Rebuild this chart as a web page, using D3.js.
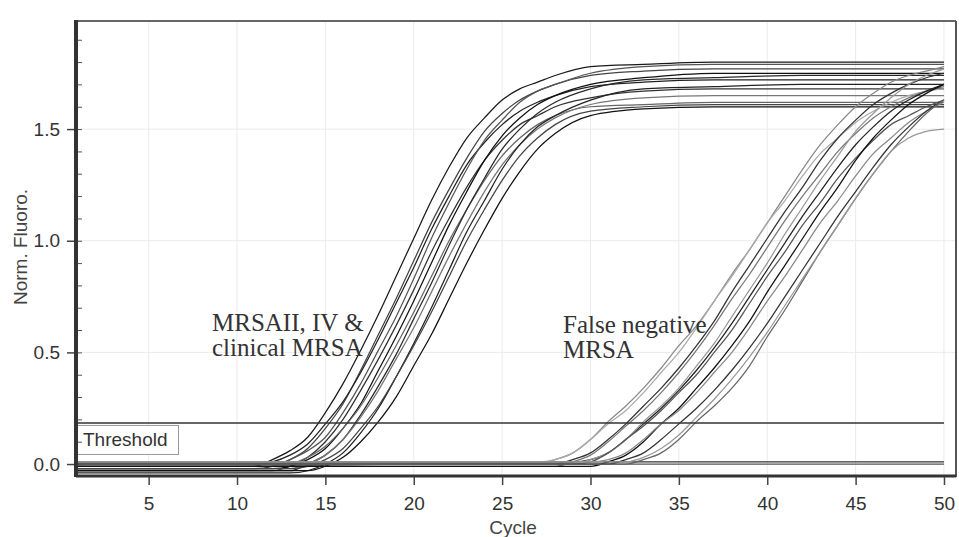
<!DOCTYPE html>
<html>
<head>
<meta charset="utf-8">
<script src="https://cdn.jsdelivr.net/npm/d3@7"></script>
<style>
	body { margin: 0; background: #fff; }
	svg { display: block; }
	.axis text { font-family: Arial, 'Liberation Sans', sans-serif; font-size: 19px; fill: #333; }
	.axis line { stroke: #444; stroke-width: 1.5; }
	.minor line { stroke: #555; stroke-width: 1; }
	.grid line { stroke: #ebebeb; stroke-width: 1; }
	.axis-label { font-family: Arial, 'Liberation Sans', sans-serif; font-size: 19px; fill: #444; }
	.note { font-family: 'Liberation Serif', 'Times New Roman', serif; font-size: 25px; fill: #333; }
	.curve { fill: none; stroke-width: 1.25; }
</style>
</head>
<body>
<div id="chart"></div>
<script>
// cycles sampled for the early group (MRSAII, IV & clinical)
var g1Cycles = [1, 8, 10, 11, 12, 13, 14, 15, 16, 17, 18, 19, 20, 21, 22, 23, 24, 25, 26, 27, 28, 30, 33, 37, 42, 50];
var g1a = [-0.01,-0.01,-0.01,-0.01,0.02,0.06,0.12,0.23,0.36,0.51,0.67,0.84,1.01,1.18,1.33,1.46,1.55,1.63,1.68,1.71,1.74,1.78,1.79,1.80,1.80,1.80];
var g1b = [-0.02,-0.02,-0.02,-0.02,-0.01,0.02,0.07,0.16,0.27,0.42,0.58,0.74,0.91,1.08,1.23,1.37,1.49,1.57,1.63,1.67,1.70,1.74,1.76,1.77,1.77,1.77];
var g1c = [0,0,0,0,0.01,0.04,0.09,0.18,0.28,0.41,0.56,0.72,0.88,1.05,1.20,1.34,1.44,1.52,1.58,1.62,1.65,1.69,1.71,1.72,1.72,1.72];
var g1d = [-0.01,-0.01,-0.01,-0.01,-0.01,0.02,0.06,0.12,0.23,0.36,0.51,0.66,0.83,1.01,1.17,1.32,1.45,1.54,1.62,1.67,1.70,1.75,1.78,1.79,1.79,1.79];
var g1e = [-0.03,-0.03,-0.03,-0.03,-0.03,-0.01,0.03,0.10,0.20,0.33,0.47,0.62,0.78,0.95,1.10,1.24,1.36,1.45,1.52,1.56,1.60,1.64,1.67,1.68,1.68,1.68];
var g1f = [-0.02,-0.02,-0.02,-0.02,-0.02,-0.01,0.02,0.07,0.16,0.27,0.42,0.57,0.73,0.90,1.07,1.22,1.36,1.47,1.55,1.61,1.65,1.70,1.73,1.75,1.75,1.75];
var g1g = [-0.01,-0.01,-0.01,-0.01,-0.01,0.00,0.03,0.08,0.16,0.26,0.39,0.53,0.68,0.84,1.00,1.14,1.27,1.38,1.46,1.52,1.56,1.60,1.61,1.62,1.62,1.62];
var g1h = [-0.03,-0.03,-0.03,-0.03,-0.03,-0.03,0.00,0.04,0.11,0.22,0.35,0.49,0.65,0.81,0.98,1.14,1.28,1.41,1.50,1.57,1.62,1.68,1.72,1.73,1.74,1.74];
var g1i = [-0.02,-0.02,-0.02,-0.02,-0.02,-0.02,0.00,0.04,0.11,0.21,0.33,0.47,0.61,0.77,0.93,1.08,1.22,1.34,1.43,1.50,1.55,1.61,1.64,1.65,1.65,1.65];
var g1j = [-0.04,-0.04,-0.04,-0.04,-0.04,-0.04,-0.03,0.00,0.05,0.14,0.25,0.39,0.54,0.70,0.87,1.04,1.18,1.32,1.43,1.51,1.56,1.63,1.68,1.69,1.70,1.70];
var g1k = [-0.02,-0.02,-0.02,-0.02,-0.02,-0.02,-0.01,0.02,0.07,0.16,0.26,0.39,0.53,0.68,0.84,1.00,1.14,1.27,1.38,1.46,1.52,1.58,1.60,1.61,1.61,1.61];
var g1l = [-0.03,-0.03,-0.03,-0.03,-0.03,-0.03,-0.03,-0.01,0.03,0.10,0.19,0.30,0.44,0.58,0.74,0.90,1.05,1.19,1.31,1.41,1.48,1.56,1.59,1.60,1.60,1.60];

// cycles sampled for the late group (false negative MRSA)
var g2Cycles = [1, 10, 20, 25, 27, 28, 29, 30, 31, 32, 33, 34, 35, 36, 37, 38, 39, 40, 41, 42, 43, 44, 45, 46, 47, 48, 49, 50];
var g2a = [0,0,0,0,0,0.02,0.05,0.11,0.19,0.26,0.34,0.43,0.53,0.62,0.73,0.85,0.96,1.08,1.20,1.32,1.43,1.52,1.60,1.66,1.71,1.74,1.76,1.78];
var g2b = [0.01,0.01,0.01,0.01,0.01,0.02,0.05,0.11,0.18,0.24,0.32,0.41,0.50,0.61,0.73,0.84,0.96,1.08,1.18,1.29,1.39,1.46,1.53,1.58,1.62,1.65,1.67,1.68];
var g2c = [0,0,0,0,0,0,0.02,0.05,0.11,0.18,0.26,0.34,0.43,0.53,0.64,0.77,0.89,1.01,1.13,1.24,1.36,1.46,1.54,1.61,1.66,1.70,1.73,1.75];
var g2d = [-0.01,-0.01,-0.01,-0.01,-0.01,-0.01,0.01,0.04,0.10,0.17,0.24,0.32,0.41,0.51,0.62,0.74,0.85,0.97,1.09,1.20,1.30,1.40,1.48,1.55,1.60,1.64,1.67,1.69];
var g2e = [0.01,0.01,0.01,0.01,0.01,0.01,0.01,0.02,0.05,0.11,0.18,0.25,0.33,0.42,0.52,0.63,0.75,0.87,0.99,1.11,1.22,1.33,1.43,1.51,1.58,1.63,1.67,1.70];
var g2f = [0,0,0,0,0,0,0,0.02,0.05,0.11,0.19,0.26,0.34,0.44,0.54,0.66,0.78,0.90,1.03,1.15,1.27,1.38,1.49,1.57,1.64,1.70,1.74,1.77];
var g2g = [0,0,0,0,0,0,0,0.01,0.05,0.11,0.17,0.24,0.32,0.40,0.50,0.60,0.72,0.84,0.95,1.07,1.17,1.28,1.37,1.45,1.52,1.56,1.60,1.63];
var g2h = [-0.01,-0.01,-0.01,-0.01,-0.01,-0.01,-0.01,-0.01,0.01,0.04,0.10,0.18,0.25,0.34,0.43,0.53,0.64,0.77,0.89,1.01,1.13,1.24,1.36,1.46,1.54,1.61,1.66,1.70];
var g2i = [0.01,0.01,0.01,0.01,0.01,0.01,0.01,0.01,0.02,0.05,0.11,0.18,0.24,0.32,0.41,0.50,0.61,0.73,0.84,0.96,1.08,1.18,1.29,1.39,1.46,1.53,1.58,1.62];
var g2j = [0,0,0,0,0,0,0,0,0,0.02,0.05,0.11,0.18,0.25,0.33,0.42,0.52,0.63,0.75,0.87,0.99,1.11,1.22,1.33,1.43,1.51,1.58,1.63];
var g2k = [0,0,0,0,0,0,0,0,0,0,0.02,0.05,0.11,0.19,0.26,0.34,0.44,0.57,0.69,0.82,0.95,1.07,1.19,1.30,1.40,1.49,1.57,1.63];
var g2l = [0.01,0.01,0.01,0.01,0.01,0.01,0.01,0.01,0.01,0.01,0.03,0.07,0.13,0.21,0.29,0.38,0.48,0.59,0.71,0.83,0.95,1.07,1.19,1.30,1.40,1.46,1.49,1.50];

// flat negative traces
var negCycles = [1, 10, 20, 30, 40, 50];
var neg1 = [0.01, 0.01, 0.01, 0.01, 0.01, 0.01];
var neg2 = [-0.01, -0.01, 0.0, 0.0, 0.0, 0.0];

var xTicks = [5, 10, 15, 20, 25, 30, 35, 40, 45, 50];
var yTicks = [0.0, 0.5, 1.0, 1.5];
var threshold = 0.184;

var g1Colors = ['#1a1a1a', '#444', '#222', '#555', '#333', '#111', '#666', '#2a2a2a', '#777', '#222', '#444', '#111'];
var g2Colors = ['#888', '#aaa', '#333', '#777', '#222', '#999', '#555', '#111', '#888', '#333', '#666', '#999'];

var app = {
	init: function(el) {
		this.el = el;
		this.width = 959;
		this.height = 537;
		this.series = this.processData();
		this.buildChart();
	},
	processData: function() {
		var out = [];
		var pair = function(cycles, values, color) {
			return { color: color, points: cycles.map(function(c, i) { return { cycle: c, value: values[i] }; }) };
		};
		out.push(pair(negCycles, neg1, '#333'));
		out.push(pair(negCycles, neg2, '#555'));
		[g1a, g1b, g1c, g1d, g1e, g1f, g1g, g1h, g1i, g1j, g1k, g1l].forEach(function(v, i) {
			out.push(pair(g1Cycles, v, g1Colors[i]));
		});
		[g2a, g2b, g2c, g2d, g2e, g2f, g2g, g2h, g2i, g2j, g2k, g2l].forEach(function(v, i) {
			out.push(pair(g2Cycles, v, g2Colors[i]));
		});
		return out;
	},
	buildChart: function() {
		var svg = d3.select(this.el).append('svg')
			.attr('width', this.width)
			.attr('height', this.height);

		this.x = d3.scaleLinear().domain([0.89, 50.68]).range([76, 956]);
		this.y = d3.scaleLinear().domain([-0.058, 1.984]).range([477, 21]);

		this.drawGrid(svg);
		this.drawData(svg);
		this.drawThreshold(svg);
		this.drawNotes(svg);
		this.drawFrame(svg);
		this.drawAxes(svg);
	},
	drawGrid: function(svg) {
		var x = this.x, y = this.y;
		var grid = svg.append('g').attr('class', 'grid');

		grid.selectAll('.vg').data(xTicks).enter().append('line')
			.attr('x1', function(d) { return x(d); })
			.attr('x2', function(d) { return x(d); })
			.attr('y1', y.range()[1])
			.attr('y2', y.range()[0]);

		grid.selectAll('.hg').data(yTicks.slice(1)).enter().append('line')
			.attr('x1', x.range()[0])
			.attr('x2', x.range()[1])
			.attr('y1', function(d) { return y(d); })
			.attr('y2', function(d) { return y(d); });
	},
	drawData: function(svg) {
		var x = this.x, y = this.y;
		var line = d3.line()
			.x(function(d) { return x(d.cycle); })
			.y(function(d) { return y(d.value); })
			.curve(d3.curveMonotoneX);

		svg.append('g').selectAll('path')
			.data(this.series)
			.enter().append('path')
			.attr('class', 'curve')
			.attr('stroke', function(d) { return d.color; })
			.attr('d', function(d) { return line(d.points); });
	},
	drawThreshold: function(svg) {
		var x = this.x, y = this.y;

		svg.append('line')
			.attr('x1', x.range()[0])
			.attr('x2', x(50))
			.attr('y1', y(threshold))
			.attr('y2', y(threshold))
			.attr('stroke', '#333')
			.attr('stroke-width', 1.5);

		svg.append('rect')
			.attr('x', 77.5)
			.attr('y', y(threshold) + 2.5)
			.attr('width', 101)
			.attr('height', 29)
			.attr('fill', '#fff')
			.attr('stroke', '#999');

		svg.append('text')
			.attr('class', 'axis-label')
			.attr('x', 83)
			.attr('y', y(threshold) + 23)
			.style('fill', '#333')
			.text('Threshold');
	},
	drawNotes: function(svg) {
		var notes = [
			{ x: 212, y: 331, text: 'MRSAII, IV &' },
			{ x: 212, y: 356, text: 'clinical MRSA' },
			{ x: 563, y: 333, text: 'False negative' },
			{ x: 563, y: 358, text: 'MRSA' }
		];
		svg.append('g').selectAll('text')
			.data(notes)
			.enter().append('text')
			.attr('class', 'note')
			.attr('x', function(d) { return d.x; })
			.attr('y', function(d) { return d.y; })
			.text(function(d) { return d.text; });
	},
	drawFrame: function(svg) {
		var x0 = 76, x1 = 956, y0 = 21, y1 = 477;
		var frame = svg.append('g').attr('fill', 'none');
		frame.append('line').attr('x1', x0).attr('x2', x1).attr('y1', y0).attr('y2', y0)
			.attr('stroke', '#666').attr('stroke-width', 2);
		frame.append('line').attr('x1', x1).attr('x2', x1).attr('y1', y0).attr('y2', y1)
			.attr('stroke', '#555').attr('stroke-width', 2);
		frame.append('line').attr('x1', x0).attr('x2', x1).attr('y1', y1 - 1).attr('y2', y1 - 1)
			.attr('stroke', '#333').attr('stroke-width', 3);
		frame.append('line').attr('x1', x0).attr('x2', x0).attr('y1', y0 - 1).attr('y2', y1)
			.attr('stroke', '#333').attr('stroke-width', 4);
	},
	drawAxes: function(svg) {
		var x = this.x, y = this.y;

		var xAxis = d3.axisBottom(x)
			.tickValues(xTicks)
			.tickFormat(d3.format('d'))
			.tickSize(8)
			.tickPadding(12);

		var yAxis = d3.axisLeft(y)
			.tickValues(yTicks)
			.tickFormat(d3.format('.1f'))
			.tickSize(7)
			.tickPadding(7);

		var minor = d3.axisLeft(y)
			.tickValues(d3.range(0, 20).map(function(i) { return i / 10; }))
			.tickFormat('')
			.tickSize(-4);

		svg.append('g')
			.attr('class', 'x axis')
			.attr('transform', 'translate(0,477)')
			.call(xAxis)
			.select('.domain').remove();

		svg.append('g')
			.attr('class', 'y axis')
			.attr('transform', 'translate(74,0)')
			.call(yAxis)
			.select('.domain').remove();

		svg.append('g')
			.attr('class', 'minor')
			.attr('transform', 'translate(78,0)')
			.call(minor)
			.select('.domain').remove();

		svg.append('text')
			.attr('class', 'axis-label')
			.attr('x', 513)
			.attr('y', 534)
			.attr('text-anchor', 'middle')
			.text('Cycle');

		svg.append('text')
			.attr('class', 'axis-label')
			.attr('transform', 'translate(27,247) rotate(-90)')
			.attr('text-anchor', 'middle')
			.text('Norm. Fluoro.');
	}
};

app.init('#chart');
</script>
</body>
</html>
